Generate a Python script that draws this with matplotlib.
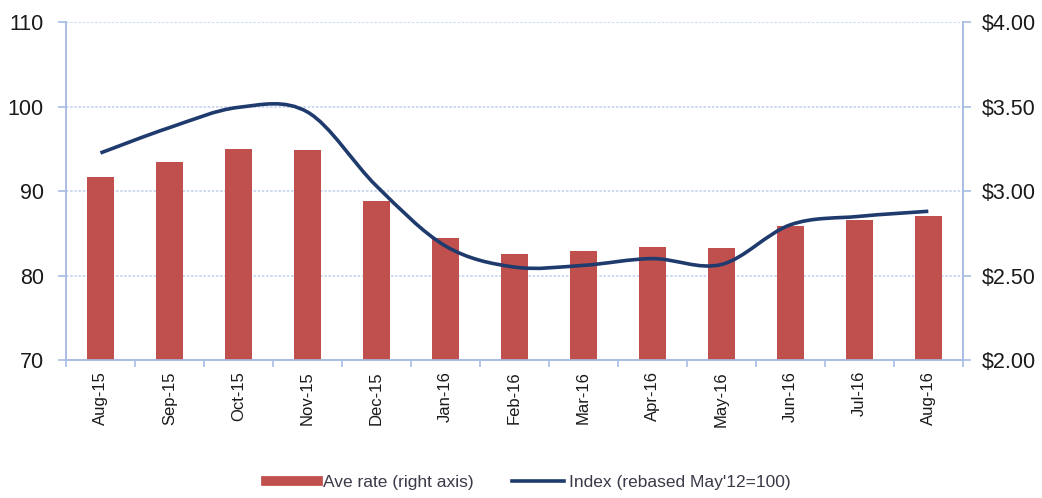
import matplotlib
matplotlib.use("Agg")
import matplotlib.pyplot as plt
from matplotlib.path import Path
from matplotlib.patches import PathPatch
from matplotlib.lines import Line2D
import numpy as np

plt.rcParams['font.family'] = ['Liberation Sans', 'DejaVu Sans']

months = ["Aug-15", "Sep-15", "Oct-15", "Nov-15", "Dec-15", "Jan-16", "Feb-16",
          "Mar-16", "Apr-16", "May-16", "Jun-16", "Jul-16", "Aug-16"]
ave_rate = [3.08, 3.17, 3.25, 3.24, 2.94, 2.72, 2.63, 2.645, 2.67, 2.66, 2.79, 2.83, 2.85]
index_vals = [94.5, 97.5, 99.9, 99.35, 90.6, 83.5, 81.0, 81.2, 82.0, 81.3, 86.0, 87.0, 87.6]
left_ticks = [70, 80, 90, 100, 110]
right_ticks = [2.0, 2.5, 3.0, 3.5, 4.0]
right_labels = ["$2.00", "$2.50", "$3.00", "$3.50", "$4.00"]

bar_color = "#C0504D"
line_color = "#1F3B6E"
axis_color = "#A9BCE3"
grid_color = "#C5D3EE"
text_color = "#1A1A1A"

fig = plt.figure(figsize=(10.42, 4.98), dpi=100)
ax = fig.add_axes([0.0633, 0.2771, 0.8607, 0.6787])
ax2 = ax.twinx()
ax.set_zorder(2)
ax2.set_zorder(1)
ax.patch.set_visible(False)

x = np.arange(len(months))

# bars on right axis
ax2.bar(x, ave_rate, width=0.4, color=bar_color, zorder=3)
ax2.set_ylim(2.0, 4.0)
ax2.set_yticks(right_ticks)
ax2.set_yticklabels(right_labels)
ax2.grid(axis='y', color=grid_color, linestyle=(0, (1.5, 1)), linewidth=1.2, zorder=0)
ax2.set_axisbelow(True)

# smooth line on left axis (Bezier path through the data points)
pts = list(zip(x, index_vals))
verts = [pts[0]]
codes = [Path.MOVETO]
n = len(pts)
for i in range(n - 1):
    p0 = np.array(pts[max(i - 1, 0)], float)
    p1 = np.array(pts[i], float)
    p2 = np.array(pts[i + 1], float)
    p3 = np.array(pts[min(i + 2, n - 1)], float)
    c1 = p1 + (p2 - p0) / 6.0
    c2 = p2 - (p3 - p1) / 6.0
    verts += [tuple(c1), tuple(c2), tuple(p2)]
    codes += [Path.CURVE4] * 3
ax.add_patch(PathPatch(Path(verts, codes), facecolor='none', edgecolor=line_color,
                       linewidth=2.6, capstyle='butt', zorder=4))
ax.set_ylim(70, 110)
ax.set_yticks(left_ticks)
ax.set_xlim(-0.5, len(months) - 0.5)

# x axis ticks
ax.set_xticks(x)
ax.set_xticklabels(months, rotation=90, fontsize=12, color=text_color)
ax.set_xticks(np.arange(-0.5, len(months), 1.0), minor=True)
ax.tick_params(axis='x', which='major', length=0, pad=8)
ax.tick_params(axis='x', which='minor', length=5, color=axis_color, width=1.2)
ax2.tick_params(axis='x', which='both', length=0)

ax.tick_params(axis='y', labelsize=15.5, color=axis_color, length=6, width=1.2,
               labelcolor=text_color, pad=10)
ax2.tick_params(axis='y', labelsize=15.5, color=axis_color, length=6, width=1.2,
                labelcolor=text_color, pad=8)

for a in (ax, ax2):
    a.spines['top'].set_visible(False)
    for s in ('left', 'right', 'bottom'):
        a.spines[s].set_color(axis_color)
        a.spines[s].set_linewidth(1.2)

handles = [Line2D([0], [0], color=bar_color, linewidth=7),
           Line2D([0], [0], color=line_color, linewidth=2.6)]
fig.legend(handles, ["Ave rate (right axis)", "Index (rebased May'12=100)"],
           loc='center', bbox_to_anchor=(0.507, 0.032), ncol=2, frameon=False,
           fontsize=12.5, handlelength=3.0, columnspacing=2.2, handletextpad=0.3,
           labelcolor="#3A3A48")

fig.savefig("out.png", dpi=100)
